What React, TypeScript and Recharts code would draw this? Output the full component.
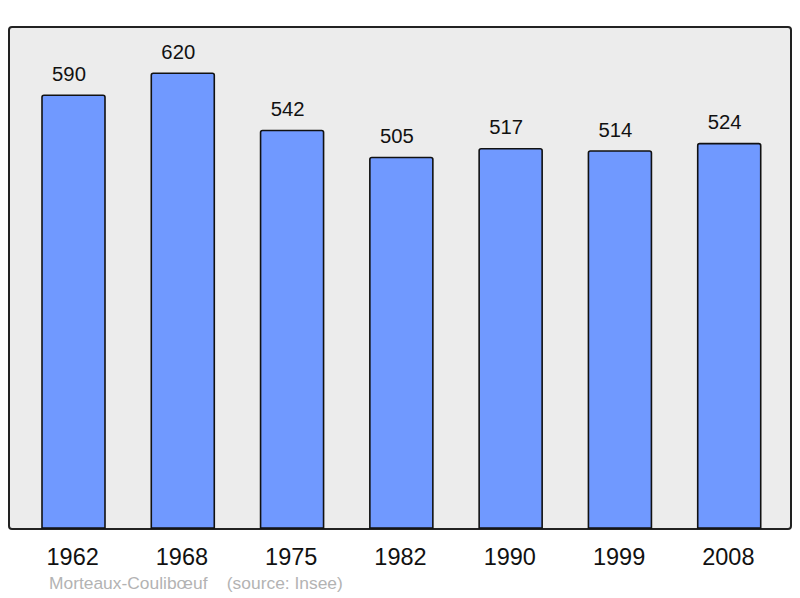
import React from 'react';
import { BarChart, Bar, XAxis, YAxis, LabelList } from 'recharts';

const years = ['1962', '1968', '1975', '1982', '1990', '1999', '2008'];
const population = [590, 620, 542, 505, 517, 514, 524];

const data = years.map((year, i) => ({ year, value: population[i] }));

const FONT = '"Liberation Sans", Arial, sans-serif';

function YearTick({ x, y, payload }: any) {
  return (
    <text x={x - 1} y={y + 37} textAnchor="middle" fontSize={23.5} fill="#111" fontFamily={FONT}>
      {payload.value}
    </text>
  );
}

function ValueLabel({ x, y, width, value }: any) {
  return (
    <text x={x + width / 2 - 4.5} y={y - 14.3} textAnchor="middle" fontSize={20.3} fill="#111" fontFamily={FONT}>
      {value}
    </text>
  );
}

export default function App() {
  return (
    <div style={{ position: 'absolute', left: 0, top: 0, width: 800, height: 598, background: '#fff' }}>
      {/* plot background */}
      <div
        style={{
          position: 'absolute',
          left: 8,
          top: 26,
          width: 784,
          height: 504,
          background: '#ececec',
          border: '2px solid #222',
          borderRadius: 4,
          boxSizing: 'border-box',
        }}
      />
      <div style={{ position: 'absolute', left: 0, top: 0 }}>
        <BarChart width={800} height={598} data={data} margin={{ top: 27, right: 9, left: 9, bottom: 40 }}>
          <XAxis
            dataKey="year"
            height={30}
            axisLine={false}
            tickLine={false}
            tickSize={0}
            tickMargin={0}
            interval={0}
            padding={{ left: 10, right: 7 }}
            tick={<YearTick />}
          />
          <YAxis hide domain={[0, 683]} />
          <Bar
            dataKey="value"
            barSize={63}
            fill="#7099ff"
            stroke="#111"
            strokeWidth={1.6}
            radius={[2, 2, 0, 0]}
            isAnimationActive={false}
          >
            <LabelList dataKey="value" content={<ValueLabel />} />
          </Bar>
        </BarChart>
      </div>
      <div
        style={{
          position: 'absolute',
          left: 49,
          top: 573,
          fontFamily: FONT,
          fontSize: 17.4,
          color: '#b3b3b3',
          whiteSpace: 'pre',
          lineHeight: '20px',
        }}
      >
        {'Morteaux-Coulibœuf    (source: Insee)'}
      </div>
    </div>
  );
}
